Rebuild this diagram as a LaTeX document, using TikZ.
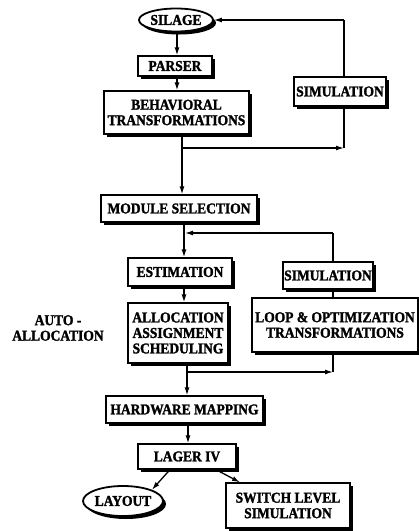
\documentclass[tikz,border=0pt]{standalone}
\usepackage{fontspec}
\setmainfont{Liberation Serif}[FakeStretch=0.9,FakeBold=1.6]
\usetikzlibrary{shadows,arrows.meta,shapes.geometric}
\begin{document}
\begin{tikzpicture}[x=1pt,y=-1pt,
  every node/.style={font=\bfseries\fontsize{15}{15.5}\selectfont},
  shad/.style={drop shadow={shadow xshift=3pt,shadow yshift=-3pt,fill=black,opacity=1}},
  box/.style={draw,line width=1.3pt,fill=white,shad,inner sep=0pt,align=center},
  oval/.style={ellipse,draw,line width=1.8pt,fill=white,shad,inner sep=0pt},
  conn/.style={line width=1.3pt},
  arr/.style={conn,-{Latex[length=8pt,width=5pt]}},
  lbl/.style={align=center}]
\useasboundingbox (0,0) rectangle (419,531);

\node[oval,minimum width=74pt,minimum height=23pt] (silage) at (176,20) {SILAGE};
\node[box,minimum width=74pt,minimum height=20pt] (parser) at (175,66) {PARSER};
\node[box,minimum width=145pt,minimum height=43pt] (bt) at (176.5,112.5) {BEHAVIORAL\\TRANSFORMATIONS};
\node[box,minimum width=92pt,minimum height=29pt] (sim1) at (340,91.5) {SIMULATION};
\node[box,minimum width=156pt,minimum height=27pt] (mod) at (179,208.5) {MODULE SELECTION};
\node[box,minimum width=104pt,minimum height=28pt] (est) at (180,272) {ESTIMATION};
\node[box,minimum width=90pt,minimum height=27pt] (sim2) at (328,275.5) {SIMULATION};
\node[box,minimum width=100pt,minimum height=60pt] (alloc) at (178,333) {ALLOCATION\\ASSIGNMENT\\SCHEDULING};
\node[box,minimum width=166pt,minimum height=54pt] (loop) at (335,325) {LOOP \& OPTIMIZATION\\TRANSFORMATIONS};
\node[lbl] (auto) at (58,328) {AUTO -\\ALLOCATION};
\node[box,minimum width=157pt,minimum height=27pt] (hw) at (184.5,409.5) {HARDWARE MAPPING};
\node[box,minimum width=98pt,minimum height=25pt] (lager) at (187,456.5) {LAGER IV};
\node[oval,minimum width=80pt,minimum height=30pt] (layout) at (123,501) {LAYOUT};
\node[box,minimum width=124pt,minimum height=45pt] (sw) at (288,505.5) {SWITCH LEVEL\\SIMULATION};

% top loop
\coordinate (b1) at (182,148);
\coordinate (r1) at (344,148);
\coordinate (r2) at (344,20);
\draw[arr] (177,0 |- silage.south) -- (177,0 |- parser.north);
\draw[arr] (177,0 |- parser.south) -- (177,0 |- bt.north);
\draw[arr] (182,0 |- bt.south) -- (182,0 |- mod.north);
\draw[arr] (b1) -- (r1);
\draw[conn] (r1) -- (r1 |- sim1.south);
\draw[conn] (r1 |- sim1.north) -- (r2);
\draw[arr] (r2) -- (silage.east);

% middle loop
\coordinate (f1) at (333,233);
\coordinate (f2) at (185,233);
\coordinate (l1) at (333,372);
\coordinate (l2) at (187,372);
\draw[arr] (184,0 |- mod.south) -- (184,0 |- est.north);
\draw[conn] (f1 |- sim2.north) -- (f1);
\draw[arr] (f1) -- (f2);
\draw[conn] (f1 |- sim2.south) -- (f1 |- loop.north);
\draw[arr] (184,0 |- est.south) -- (184,0 |- alloc.north);
\draw[conn] (l1 |- loop.south) -- (l1);
\draw[arr] (l2) -- (l1);
\draw[arr] (187,0 |- alloc.south) -- (187,0 |- hw.north);

% bottom
\draw[arr] (188,0 |- hw.south) -- (188,0 |- lager.north);
\draw[arr] (170,0 |- lager.south) -- (layout.north east);
\draw[arr] (216,0 |- lager.south) -- (240,0 |- sw.north);
\end{tikzpicture}
\end{document}
